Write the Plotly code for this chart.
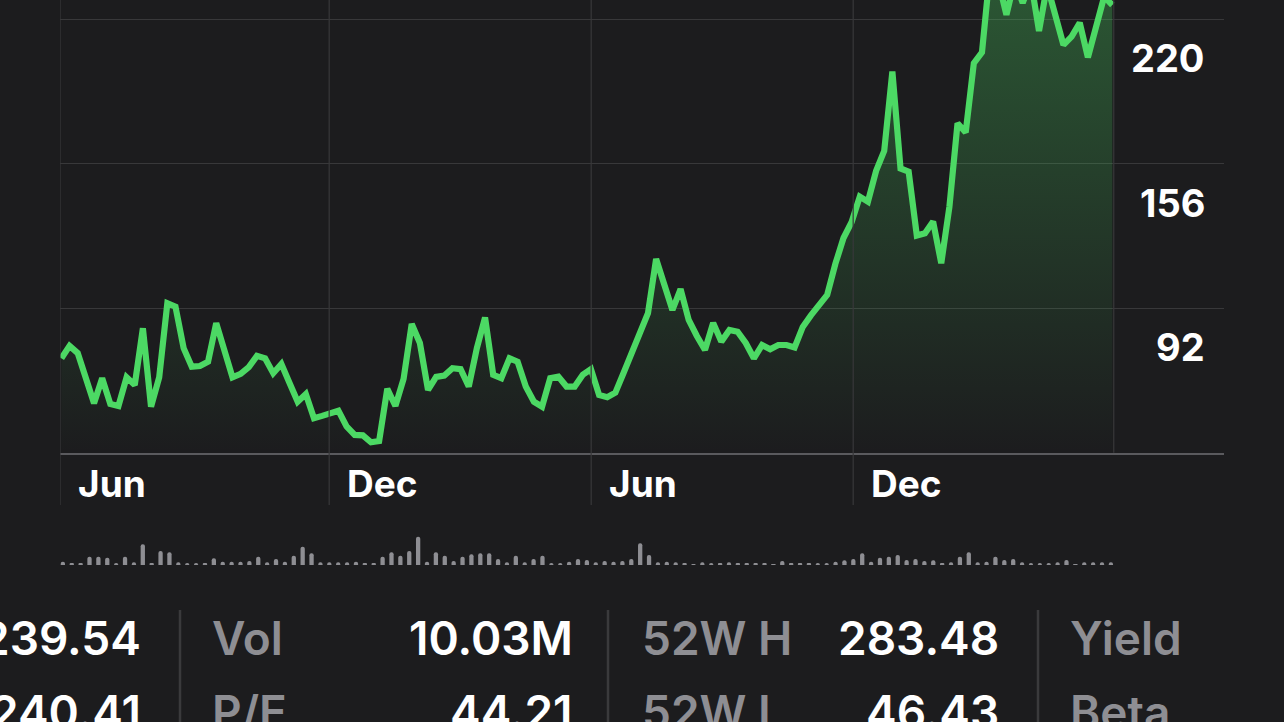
import plotly.graph_objects as go
import pandas as pd

# ---------------- data ----------------
prices = [
    69.8, 75.3, 72.1, 60.2, 49.9, 61.0, 49.6, 48.7, 61.4, 58.0,
    83.1, 48.4, 61.4, 94.2, 92.7, 74.3, 66.1, 66.4, 68.3, 85.4,
    73.5, 61.4, 62.9, 65.9, 70.9, 69.8, 63.2, 67.3, 58.9, 50.6,
    54.0, 43.3, 44.3, 45.5, 46.6, 39.6, 35.9, 35.7, 32.6, 33.2,
    56.3, 48.7, 60.7, 85.0, 76.6, 55.8, 61.6, 62.2, 65.4, 65.0,
    57.3, 74.4, 87.9, 62.5, 61.0, 69.8, 68.3, 57.3, 50.6, 48.4,
    61.0, 61.7, 57.3, 57.3, 62.5, 65.0, 53.6, 52.6, 54.6, 63.3,
    72.1, 79.4, 89.8, 113.8, 102.3, 91.2, 100.5, 86.8, 79.7, 73.5,
    85.5, 77.2, 82.4, 81.6, 76.6, 69.8, 75.7, 73.8, 75.7, 75.7,
    74.6, 83.7, 88.8, 93.0, 97.9, 111.6, 123.1, 130.2, 141.4,
    139.2, 152.8, 161.7, 196.8, 153.9, 152.5, 124.2, 125.2, 130.4, 111.9,
    136.9, 173.9, 169.9, 200.5, 205.3, 242.0, 237.0, 221.9, 237.0, 227.2,
    237.0, 214.8, 235.0, 220.6, 208.6, 212.3, 218.4, 203.1, 216.6, 230.0,
    226.3,
]
price_start, price_end = "2019-05-28", "2021-05-31"

volumes = [  # millions
    6.7, 3.3, 3.3, 16.7, 16.7, 14.7, 4.0, 16.7, 5.3, 41.3,
    3.3, 28.0, 25.3, 5.3, 4.0, 4.0, 2.7, 13.3, 6.7, 6.7,
    6.7, 8.0, 16.7, 5.3, 12.0, 6.7, 18.7, 36.7, 23.3, 5.3,
    5.3, 5.3, 5.3, 6.7, 3.3, 3.3, 16.7, 25.3, 18.7, 28.0,
    56.7, 6.7, 25.3, 18.7, 8.0, 16.7, 21.3, 23.3, 23.3, 12.0,
    5.3, 18.7, 5.3, 12.0, 18.7, 4.0, 4.0, 6.7, 12.0, 10.0,
    5.3, 8.0, 6.7, 8.0, 12.0, 43.3, 20.0, 5.3, 6.7, 5.3,
    3.3, 2.0, 5.3, 4.0, 2.7, 5.3, 2.7, 2.7, 3.3, 3.3,
    1.3, 8.0, 3.3, 3.3, 2.7, 4.0, 4.0, 6.7, 9.3, 12.0,
    23.3, 6.7, 14.7, 16.7, 20.0, 10.0, 12.0, 8.0, 9.3, 3.3,
    5.3, 16.7, 25.3, 5.3, 6.7, 16.7, 10.0, 12.0, 5.3, 4.0,
    4.0, 4.0, 5.3, 10.0, 1.3, 5.3, 5.3, 5.3, 5.3,
]
volume_start, volume_end = "2019-05-29", "2021-05-30"

x_range = ["2019-05-27", "2021-08-17"]
y_range = [28, 228.5]
y_grid_values = [92, 156, 220]
y_tick_labels = ["92", "156", "220"]
month_dates = ["2019-05-27", "2019-12-01", "2020-06-01", "2020-12-01"]
month_labels = ["Jun", "Dec", "Jun", "Dec"]
data_end_line = "2021-06-01"

stat_labels_row1 = ["Vol", "52W H", "Yield"]
stat_labels_row2 = ["P/E", "52W L", "Beta"]
stat_values_row1 = ["239.54", "10.03M", "283.48"]
stat_values_row2 = ["240.41", "44.21", "46.43"]

# ---------------- figure ----------------
W, H = 1284, 722
BG = "#1c1c1e"
GREEN = "#4cd964"
GRID = "#38383a"
GRAY = "#8e8e93"

def px_x(p):
    return p / W

def px_y(p):
    return 1 - p / H

price_dates = pd.date_range(price_start, price_end, periods=len(prices))
vol_dates = pd.date_range(volume_start, volume_end, periods=len(volumes))

fig = go.Figure()

fig.add_trace(go.Scatter(
    x=price_dates, y=prices, mode="lines",
    line=dict(color=GREEN, width=6.2),
    fill="tozeroy",
    fillgradient=dict(
        type="vertical",
        colorscale=[[0, "rgba(76,217,100,0.0)"], [1, "rgba(76,217,100,0.30)"]],
        start=y_range[0], stop=y_range[1],
    ),
    hoverinfo="skip", showlegend=False,
))

fig.add_trace(go.Bar(
    x=vol_dates, y=volumes, xaxis="x2", yaxis="y2",
    width=3.0 * 86400000,
    marker=dict(color=GRAY, cornerradius=2, line=dict(width=0)),
    hoverinfo="skip", showlegend=False,
))

x_dom = [px_x(60), px_x(1224)]
fig.update_layout(
    width=W, height=H,
    paper_bgcolor=BG, plot_bgcolor=BG,
    margin=dict(l=0, r=0, t=0, b=0),
    xaxis=dict(domain=x_dom, range=x_range, type="date",
               showgrid=False, zeroline=False, showticklabels=False,
               showline=True, linecolor="#5a5a5e", linewidth=2, ticks=""),
    yaxis=dict(domain=[px_y(452.7), 1], range=y_range,
               tickvals=y_grid_values, showgrid=True, gridcolor=GRID, gridwidth=1,
               zeroline=False, showticklabels=False, showline=False),
    xaxis2=dict(domain=x_dom, range=x_range, type="date", anchor="y2",
                showgrid=False, zeroline=False, showticklabels=False, showline=False),
    yaxis2=dict(domain=[px_y(565), px_y(535)], range=[0, 60], anchor="x2",
                showgrid=False, zeroline=False, showticklabels=False, showline=False),
)

shapes = []
for d in month_dates:
    shapes.append(dict(type="line", xref="x", yref="paper", x0=d, x1=d,
                       y0=px_y(505), y1=1, line=dict(color=GRID, width=1.2)))
shapes.append(dict(type="line", xref="x", yref="paper", x0=data_end_line, x1=data_end_line,
                   y0=px_y(452.7), y1=1, line=dict(color=GRID, width=1.2)))
for sx in [180, 608, 1038]:
    shapes.append(dict(type="line", xref="paper", yref="paper", x0=px_x(sx), x1=px_x(sx),
                       y0=0, y1=px_y(610), line=dict(color="#3a3a3c", width=2.5)))
fig.update_layout(shapes=shapes)

ann = []
for v, t in zip(y_grid_values, y_tick_labels):
    ann.append(dict(x=px_x(1207), xref="paper", xanchor="right", y=v, yref="y",
                    yanchor="middle", yshift=-39, text=t, showarrow=False,
                    font=dict(family="Inter", size=38, color="white", weight=700)))
for d, t in zip(month_dates, month_labels):
    ann.append(dict(x=d, xref="x", xanchor="left", xshift=16, y=px_y(483), yref="paper",
                    yanchor="middle", text=t, showarrow=False,
                    font=dict(family="Inter", size=37, color="white", weight=700)))

label_x = [210, 640, 1068]
value_x = [143, 575, 1001]
row_y = [638, 712]
for row, (labs, vals) in enumerate([(stat_labels_row1, stat_values_row1),
                                    (stat_labels_row2, stat_values_row2)]):
    for lx, t in zip(label_x, labs):
        ann.append(dict(x=px_x(lx), xref="paper", xanchor="left", y=px_y(row_y[row]), yref="paper",
                        yanchor="middle", text=t, showarrow=False,
                        font=dict(family="Inter", size=46, color=GRAY, weight=600)))
    for vx, t in zip(value_x, vals):
        ann.append(dict(x=px_x(vx), xref="paper", xanchor="right", y=px_y(row_y[row]), yref="paper",
                        yanchor="middle", text=t, showarrow=False,
                        font=dict(family="Inter", size=46, color="white", weight=600)))
fig.update_layout(annotations=ann)

fig.write_html(
    "out.html",
    config={"displayModeBar": False},
    post_script="document.body.style.margin='0';document.body.style.background='#1c1c1e';",
)
